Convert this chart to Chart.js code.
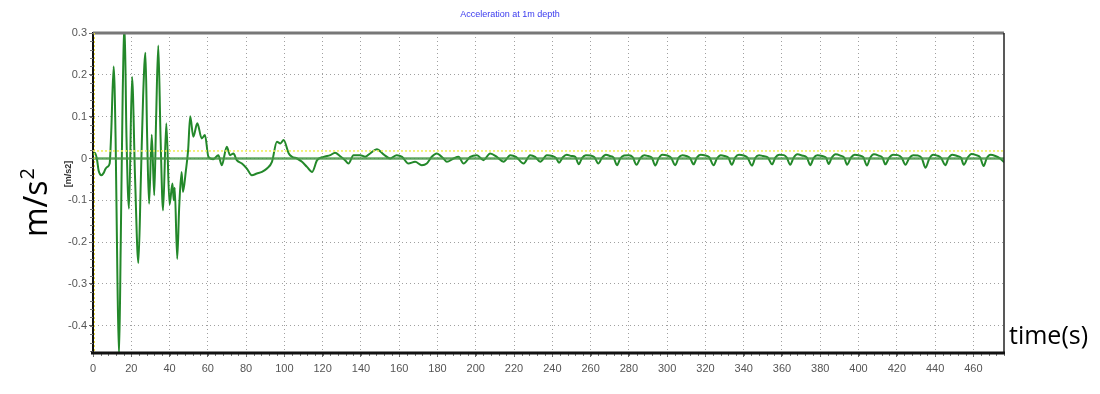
<!DOCTYPE html>
<html>
<head>
<meta charset="utf-8">
<script src="https://cdn.jsdelivr.net/npm/chart.js@4/dist/chart.umd.min.js"></script>
<style>
  body { margin: 0; background: #fff; }
  canvas { display: block; }
</style>
</head>
<body>
<canvas id="accChart" width="1100" height="394"></canvas>
<script>
'use strict';

// time in seconds, acceleration in m/s2
const times = [
  0, 1, 2, 3, 4.4, 5.5, 6.5, 7.5, 8.7, 9.5, 10.8, 11.8, 12.8, 13.6, 14.5, 15.5, 16.5, 17.5, 18.8, 20.4,
  22, 23.7, 25, 26.2, 27.4, 28.3, 29.3, 30.7, 32, 33, 34.1, 35.3, 36.6, 38.3, 40, 41.5, 42.2, 42.7, 44, 45,
  46.3, 47, 48.5, 49.7, 50.8, 52.4, 54.5, 56.8, 58.5, 60.3, 62.9, 65.5, 67.3, 69.9, 71.6, 73.4, 75.1, 77.8, 80.4, 83,
  85.6, 88.3, 90.9, 93.5, 96.1, 97.9, 99.6, 102.3, 104, 106.6, 109.2, 111.8, 114.5, 117.1, 120.6, 124, 126.5, 129, 131.7, 133.5,
  136.1, 139.6, 142.2, 144.8, 148.3, 151.8, 155.3, 158.7, 161.5, 164.8, 168.3, 171.8, 174.4, 177, 179.6, 183.1, 184.9, 188.4, 191, 193.6,
  197.1, 200.6, 204, 207.5, 211, 214.5, 218, 221, 225, 228.4, 231, 233.7, 237.1,
  240, 242, 243.5, 245.5, 247.5, 250, 252, 253.8, 255.5, 257.5, 260, 262, 264, 266, 268, 270, 272, 273.8,
  275.5, 277.5, 280, 282, 284, 286, 288, 290, 292, 293.8, 295.5, 297.5, 300, 302, 304.2, 306, 308, 310, 312, 313.8,
  315.5, 317.5, 320, 322, 324.3, 326, 328, 330, 332, 333.8, 335.5, 337.5, 340, 342, 344.3, 346, 348, 350, 352.5, 354.8,
  356.5, 358.5, 361, 362.5, 364.3, 366, 368, 370.5, 373, 374.8, 376.5, 378.5, 381, 383, 384.4, 386, 388, 390.5, 392.5, 394,
  396, 398, 400.5, 402.5, 404.4, 406, 408, 410.5, 412.5, 414, 416, 418, 420.5, 422.5, 424.5, 426.5, 428.5, 431, 433, 435,
  437, 439, 441, 443, 445.4, 447, 449, 451.5, 453.5, 455, 457, 459, 461.5, 463.5, 465.4, 467, 469, 471.5, 474, 476
];
const accel = [
  0.008, 0.014, 0.0, -0.03, -0.04, -0.035, -0.025, -0.02, -0.012, 0.06, 0.22, 0.05, -0.3, -0.47, -0.2, 0.15, 0.32, 0.05, -0.12, 0.195,
  -0.05, -0.25, -0.05, 0.15, 0.253, 0.05, -0.108, 0.057, -0.088, 0.1, 0.27, 0.05, -0.124, 0.084, -0.11, -0.06, -0.1, -0.07, -0.24, -0.12,
  -0.032, -0.08, -0.03, 0.02, 0.101, 0.052, 0.084, 0.048, 0.056, 0.004, -0.002, 0.008, -0.016, 0.028, 0.008, 0.012, -0.004, -0.012, -0.024, -0.04,
  -0.036, -0.032, -0.024, -0.008, 0.04, 0.036, 0.044, 0.012, 0.004, 0.0, -0.008, -0.02, -0.032, -0.004, 0.004, 0.008, 0.014, 0.006, -0.004, -0.012,
  0.008, 0.008, 0.004, 0.012, 0.022, 0.01, 0.0, 0.008, 0.004, -0.012, -0.008, -0.016, -0.012, 0.004, 0.012, 0.0, -0.008, 0.0, 0.004, -0.012,
  0.004, 0.008, -0.004, 0.012, 0.004, -0.008, 0.008, 0.004, -0.012, 0.008, 0.004, -0.008, 0.008,
  0.006, 0.001, -0.01, 0.003, 0.009, 0.006, 0.004, -0.014, 0.001, 0.008, 0.007, 0.003, -0.012, 0.002, 0.009, 0.006, 0.002, -0.016,
  0.0, 0.007, 0.008, 0.003, -0.015, 0.001, 0.008, 0.006, 0.002, -0.017, 0.0, 0.009, 0.007, 0.002, -0.016, 0.002, 0.008, 0.006, 0.001, -0.014,
  0.002, 0.009, 0.007, 0.003, -0.016, 0.0, 0.008, 0.006, 0.002, -0.015, 0.002, 0.009, 0.007, 0.002, -0.017, 0.001, 0.008, 0.006, 0.003, -0.014,
  0.002, 0.009, 0.008, 0.002, -0.015, 0.001, 0.010, 0.007, 0.002, -0.016, 0.001, 0.008, 0.006, 0.002, -0.013, 0.002, 0.010, 0.007, 0.002, -0.015,
  0.002, 0.009, 0.007, 0.003, -0.017, 0.001, 0.010, 0.007, 0.002, -0.014, 0.002, 0.009, 0.008, 0.002, -0.015, 0.001, 0.008, 0.007, 0.001, -0.022,
  0.0, 0.009, 0.007, 0.002, -0.016, 0.001, 0.009, 0.006, 0.002, -0.015, 0.002, 0.011, 0.008, 0.003, -0.018, 0.001, 0.009, 0.006, 0.0, -0.009
];

const xTicks = [0, 20, 40, 60, 80, 100, 120, 140, 160, 180, 200, 220, 240, 260, 280, 300, 320, 340, 360, 380, 400, 420, 440, 460];
const yTicks = [0.3, 0.2, 0.1, 0, -0.1, -0.2, -0.3, -0.4];
const tMax = 476;
const yMin = -0.465;
const yMax = 0.3;
const yellowLevel = 0.018;

const titleText = 'Acceleration at 1m depth';
const unitText = '[m/s2]';

const traceData = times.map((t, i) => ({ x: t, y: accel[i] }));
const zeroData = [{ x: 0, y: 0 }, { x: tMax, y: 0 }];
const yellowData = [{ x: 0, y: yellowLevel }, { x: tMax, y: yellowLevel }];

const narrow = "'Liberation Sans Narrow', 'Arial Narrow', 'Liberation Sans', sans-serif";

// frame, minor ticks and the loose labels around the plot
const decor = {
  id: 'decor',
  afterDraw(chart) {
    const ctx = chart.ctx;
    const a = chart.chartArea;
    const xs = chart.scales.x;
    const ys = chart.scales.y;
    ctx.save();

    // minor ticks
    ctx.strokeStyle = '#777';
    ctx.lineWidth = 1;
    ctx.beginPath();
    for (let v = 0; v <= tMax; v += 4) {
      const px = Math.round(xs.getPixelForValue(v)) + 0.5;
      ctx.moveTo(px, a.bottom);
      ctx.lineTo(px, a.bottom + 3);
    }
    for (let k = -23; k <= 15; k++) {
      const py = Math.round(ys.getPixelForValue(k * 0.02)) + 0.5;
      ctx.moveTo(a.left - 3, py);
      ctx.lineTo(a.left, py);
    }
    ctx.stroke();

    // frame
    ctx.strokeStyle = '#777';
    ctx.lineWidth = 3;
    ctx.beginPath();
    ctx.moveTo(a.left, a.top);
    ctx.lineTo(a.right, a.top);
    ctx.stroke();
    ctx.strokeStyle = '#222';
    ctx.lineWidth = 1.5;
    ctx.beginPath();
    ctx.moveTo(a.right, a.top);
    ctx.lineTo(a.right, a.bottom);
    ctx.stroke();
    ctx.strokeStyle = '#111';
    ctx.lineWidth = 3;
    ctx.beginPath();
    ctx.moveTo(a.left - 2, a.bottom);
    ctx.lineTo(a.right + 1, a.bottom);
    ctx.stroke();
    ctx.strokeStyle = '#e8d840';
    ctx.lineWidth = 1;
    ctx.setLineDash([2, 2]);
    ctx.beginPath();
    ctx.moveTo(a.left + 1.5, a.top);
    ctx.lineTo(a.left + 1.5, a.bottom);
    ctx.stroke();
    ctx.setLineDash([]);

    // title
    ctx.fillStyle = '#3a3aee';
    ctx.font = "9px " + narrow;
    ctx.textAlign = 'center';
    ctx.textBaseline = 'middle';
    ctx.fillText(titleText, 510, 15);

    // small unit label
    ctx.save();
    ctx.translate(69, 174);
    ctx.rotate(-Math.PI / 2);
    ctx.fillStyle = '#333';
    ctx.font = "bold 9px " + narrow;
    ctx.fillText(unitText, 0, 0);
    ctx.restore();

    // big axis labels
    ctx.fillStyle = '#000';
    ctx.save();
    ctx.translate(47, 237);
    ctx.rotate(-Math.PI / 2);
    ctx.textAlign = 'left';
    ctx.textBaseline = 'alphabetic';
    ctx.font = "32px 'Open Sans', sans-serif";
    ctx.fillText('m/s', 0, 0);
    const w = ctx.measureText('m/s').width;
    ctx.font = "20px 'Open Sans', sans-serif";
    ctx.fillText('2', w + 1, -13);
    ctx.restore();

    ctx.font = "25px 'Open Sans', sans-serif";
    ctx.textAlign = 'left';
    ctx.textBaseline = 'alphabetic';
    ctx.fillText('time(s)', 1009, 344);

    ctx.restore();
  }
};

document.addEventListener('DOMContentLoaded', function () {
  const ctx = document.getElementById('accChart').getContext('2d');
  new Chart(ctx, {
    type: 'line',
    data: {
      datasets: [
        {
          label: 'threshold',
          data: yellowData,
          borderColor: '#eeee55',
          borderWidth: 1.5,
          borderDash: [2, 2],
          pointRadius: 0
        },
        {
          label: 'zero',
          data: zeroData,
          borderColor: 'rgba(70, 150, 70, 0.85)',
          borderWidth: 2.5,
          pointRadius: 0
        },
        {
          label: 'acceleration',
          data: traceData,
          borderColor: '#23882a',
          borderWidth: 2,
          pointRadius: 0,
          cubicInterpolationMode: 'monotone'
        }
      ]
    },
    options: {
      responsive: false,
      animation: false,
      layout: { padding: { left: 0, right: 96, top: 33, bottom: 0 } },
      plugins: {
        legend: { display: false },
        title: { display: false },
        tooltip: { enabled: false }
      },
      scales: {
        x: {
          type: 'linear',
          min: 0,
          max: tMax,
          afterFit(scale) { scale.height = 41; },
          afterBuildTicks(scale) { scale.ticks = xTicks.map(v => ({ value: v })); },
          ticks: {
            color: '#555',
            padding: 5,
            maxRotation: 0,
            autoSkip: false,
            font: { family: narrow, size: 11 }
          },
          grid: {
            color: '#a0a0a0',
            lineWidth: 1,
            tickLength: 4,
            tickColor: '#666',
            tickBorderDash: []
          },
          border: { display: false, dash: [1, 3] }
        },
        y: {
          min: yMin,
          max: yMax,
          afterFit(scale) { scale.width = 93; },
          afterBuildTicks(scale) { scale.ticks = yTicks.map(v => ({ value: v })); },
          ticks: {
            color: '#555',
            padding: 2,
            autoSkip: false,
            font: { family: narrow, size: 11 },
            callback: v => String(Math.round(v * 10) / 10)
          },
          grid: {
            color: '#a0a0a0',
            lineWidth: 1,
            tickLength: 4,
            tickColor: '#666',
            tickBorderDash: []
          },
          border: { display: true, color: '#111', width: 2, dash: [1, 3] }
        }
      }
    },
    plugins: [decor]
  });
});
</script>
</body>
</html>
